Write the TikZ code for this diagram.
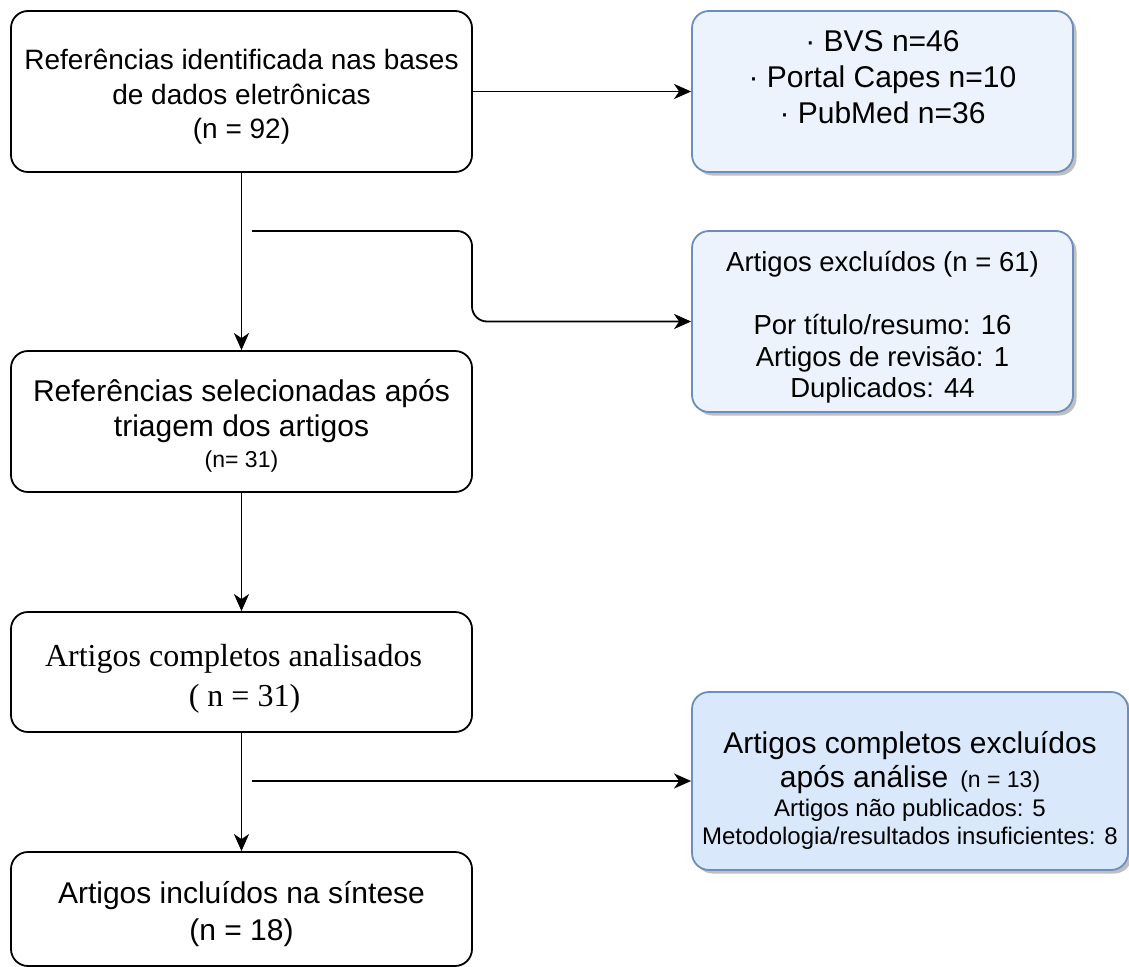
\documentclass[tikz,border=0pt]{standalone}
\usepackage{fontspec}
\setmainfont{Liberation Sans}
\newfontfamily\serifbox{Liberation Serif}
\usetikzlibrary{arrows.meta,shadows}
\definecolor{azulborda}{HTML}{6C8EBF}
\definecolor{azulclaro}{HTML}{ECF3FC}
\definecolor{azulfundo}{HTML}{DAE8FC}

\begin{document}
\begin{tikzpicture}[x=1pt,y=-1pt,
    caixa/.style={draw,line width=1.8pt,rounded corners=17pt,align=center,inner sep=0pt,minimum width=461pt},
    caixaazul/.style={draw=azulborda,line width=1.8pt,rounded corners=17pt,align=center,inner sep=0pt,
        drop shadow={shadow xshift=3.5pt,shadow yshift=-3.5pt,opacity=0.5,fill=black!50}},
    seta/.style={-{Stealth[length=17pt,width=15pt,inset=5pt]},line width=1.8pt}]
    \useasboundingbox (0,0) rectangle (1129,966);

    %%%%%%%%%% Caixas %%%%%%%%%%
    \node[caixa,minimum height=161pt,font=\fontsize{28}{34.5}\selectfont] (ident) at (241.5,91.5)
        {\mbox{}\\[-3.5pt]Referências identificada nas bases\\de dados eletrônicas\\(n = 92)};
    \node[caixa,minimum height=141pt,font=\fontsize{30}{35}\selectfont] (selec) at (241.5,421.5)
        {\mbox{}\\[-4.5pt]Referências selecionadas após\\triagem dos artigos\\[-4pt]{\fontsize{23}{28}\selectfont (n= 31)}};
    \node[caixa,minimum height=120pt,font=\serifbox\fontsize{32}{40}\selectfont] (compl) at (241.5,672)
        {\mbox{}\\[-5pt]Artigos completos analisados\kern16pt\\\kern6pt( n = 31)};
    \node[caixa,minimum height=114pt,font=\fontsize{30}{37}\selectfont] (incl) at (241.5,909)
        {\mbox{}\\[-5pt]Artigos incluídos na síntese\\(n = 18)};

    \node[caixaazul,fill=azulclaro,minimum width=381pt,minimum height=161pt,font=\fontsize{30}{36}\selectfont] (bases) at (882.5,91.5)
        {· BVS n=46\\· Portal Capes n=10\\· PubMed n=36\\[-8pt]\mbox{}};
    \node[caixaazul,fill=azulclaro,minimum width=381pt,minimum height=181pt,font=\fontsize{27.5}{31.5}\selectfont] (excl) at (882.5,321.5)
        {\mbox{}\\[0.5pt]Artigos excluídos (n = 61)\\\mbox{}\\Por título/resumo: 16\\Artigos de revisão: 1\\Duplicados: 44};
    \node[caixaazul,fill=azulfundo,minimum width=436pt,minimum height=178pt,font=\fontsize{30}{34}\selectfont] (exclcompl) at (910,781)
        {\mbox{}\\[6pt]Artigos completos excluídos\\após análise\hspace{12pt}{\fontsize{23}{28}\selectfont(n = 13)}\\[-5pt]{\fontsize{24}{29}\selectfont Artigos não publicados: 5}\\[-6pt]{\fontsize{24}{29}\selectfont Metodologia/resultados insuficientes: 8}};

    %%%%%%%%% Setas %%%%%%%%%
    \coordinate (desvio1) at (252,231);
    \coordinate (curva1) at (472,231);
    \coordinate (desvio2) at (252,781);

    \draw[seta] (ident) -- (bases);
    \draw[seta] (ident) -- (selec);
    \draw[seta,rounded corners=15pt] (desvio1) -- (curva1) |- (excl);
    \draw[seta] (selec) -- (compl);
    \draw[seta] (compl) -- (incl);
    \draw[seta] (desvio2) -- (exclcompl);
\end{tikzpicture}
\end{document}
